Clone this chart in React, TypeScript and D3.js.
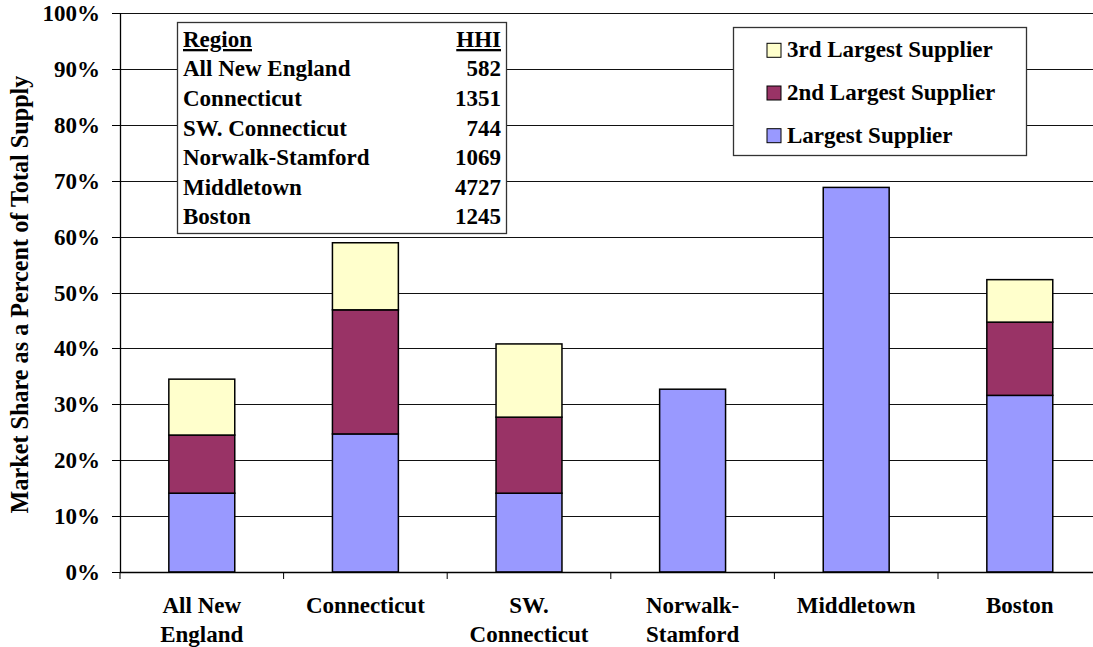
import React from "react";
import * as d3 from "d3";

const categories = [
  ["All New", "England"],
  ["Connecticut"],
  ["SW.", "Connecticut"],
  ["Norwalk-", "Stamford"],
  ["Middletown"],
  ["Boston"],
];
const categoryKeys = ["All New England", "Connecticut", "SW. Connecticut", "Norwalk-Stamford", "Middletown", "Boston"];

// market share (%) of each supplier rank, per region
const largest = [14.1, 24.7, 14.1, 32.7, 68.8, 31.6];
const second = [10.4, 22.2, 13.6, 0, 0, 13.1];
const third = [10.0, 12.0, 13.1, 0, 0, 7.6];

const seriesNames = ["Largest Supplier", "2nd Largest Supplier", "3rd Largest Supplier"];
const seriesColors = ["#9999FF", "#993366", "#FFFFCC"];

const hhiRegions = ["All New England", "Connecticut", "SW. Connecticut", "Norwalk-Stamford", "Middletown", "Boston"];
const hhiValues = [582, 1351, 744, 1069, 4727, 1245];

const yTicks = [0, 10, 20, 30, 40, 50, 60, 70, 80, 90, 100];

const W = 1093;
const H = 647;
const plot = { left: 120, right: 1101.6, top: 13, bottom: 572 };
const FONT = "'Liberation Serif', 'Times New Roman', serif";
const FS = 23;

export default function App() {
  const x = d3.scaleBand<string>().domain(categoryKeys).range([plot.left, plot.right]).padding(0);
  const y = d3.scaleLinear().domain([0, 100]).range([plot.bottom, plot.top]);
  const barW = x.bandwidth() * 0.403;

  const rows = categoryKeys.map((k, i) => ({ key: k, s0: largest[i], s1: second[i], s2: third[i] }));
  const stack = d3.stack<any>().keys(["s0", "s1", "s2"]);
  const layers = stack(rows);

  const boundaries = d3.range(categoryKeys.length + 1).map((i) => plot.left + i * x.step());
  const cx = (i: number) => (x(categoryKeys[i]) as number) + x.bandwidth() / 2;

  return (
    <svg width={W} height={H} style={{ position: "absolute", left: 0, top: 0, background: "#fff" }} fontFamily={FONT} fontWeight="bold">
      {/* gridlines */}
      {yTicks.map((t) => (
        <line key={t} x1={plot.left} x2={plot.right} y1={Math.round(y(t)) + 0.5} y2={Math.round(y(t)) + 0.5} stroke="#111" strokeWidth={1} />
      ))}
      {/* y ticks & labels */}
      {yTicks.map((t) => (
        <g key={"yt" + t}>
          <line x1={plot.left - 8} x2={plot.left} y1={Math.round(y(t)) + 0.5} y2={Math.round(y(t)) + 0.5} stroke="#000" />
          <text x={100} y={y(t) + 8} textAnchor="end" fontSize={FS}>
            {t}%
          </text>
        </g>
      ))}
      {/* stacked bars */}
      {layers.map((layer, li) =>
        layer.map((d, i) =>
          d[1] - d[0] > 0 ? (
            <rect
              key={li + "-" + i}
              x={(x(categoryKeys[i]) as number) + (x.bandwidth() - barW) / 2}
              y={y(d[1])}
              width={barW}
              height={y(d[0]) - y(d[1])}
              fill={seriesColors[li]}
              stroke="#000"
              strokeWidth={1.5}
            />
          ) : null
        )
      )}
      {/* axes */}
      <line x1={plot.left + 0.5} x2={plot.left + 0.5} y1={plot.top} y2={plot.bottom} stroke="#000" strokeWidth={1.3} />
      <line x1={plot.left} x2={plot.right} y1={plot.bottom + 0.5} y2={plot.bottom + 0.5} stroke="#000" strokeWidth={1.3} />
      {boundaries.map((b, i) => (
        <line key={"xt" + i} x1={b} x2={b} y1={plot.bottom} y2={plot.bottom + 7} stroke="#000" />
      ))}
      {/* category labels */}
      {categories.map((lines, i) => (
        <text key={"c" + i} x={cx(i)} y={613} textAnchor="middle" fontSize={FS}>
          {lines.map((ln, j) => (
            <tspan key={j} x={cx(i)} dy={j === 0 ? 0 : 28.5}>
              {ln}
            </tspan>
          ))}
        </text>
      ))}
      {/* y axis title */}
      <text transform={`translate(28, ${(plot.top + plot.bottom) / 2 + 2}) rotate(-90)`} textAnchor="middle" fontSize={24.2}>
        Market Share as a Percent of Total Supply
      </text>

      {/* HHI table */}
      <g>
        <rect x={177.5} y={22.5} width={329} height={211} fill="#fff" stroke="#333" strokeWidth={1.3} />
        <text x={183} y={47} fontSize={FS} textDecoration="underline">Region</text>
        <text x={501} y={47} fontSize={FS} textAnchor="end" textDecoration="underline">HHI</text>
        {hhiRegions.map((r, i) => (
          <g key={r}>
            <text x={183} y={76.3 + i * 29.6} fontSize={FS}>{r}</text>
            <text x={501} y={76.3 + i * 29.6} fontSize={FS} textAnchor="end">{hhiValues[i]}</text>
          </g>
        ))}
      </g>

      {/* legend */}
      <g>
        <rect x={733.5} y={27.5} width={293} height={128} fill="#fff" stroke="#333" strokeWidth={1.3} />
        {[2, 1, 0].map((si, row) => (
          <g key={si} transform={`translate(0, ${57.3 + row * 42.7})`}>
            <rect x={767} y={-14} width={14} height={14} fill={seriesColors[si]} stroke="#000" strokeWidth={1} />
            <text x={787} y={0} fontSize={FS}>{seriesNames[si]}</text>
          </g>
        ))}
      </g>
    </svg>
  );
}
